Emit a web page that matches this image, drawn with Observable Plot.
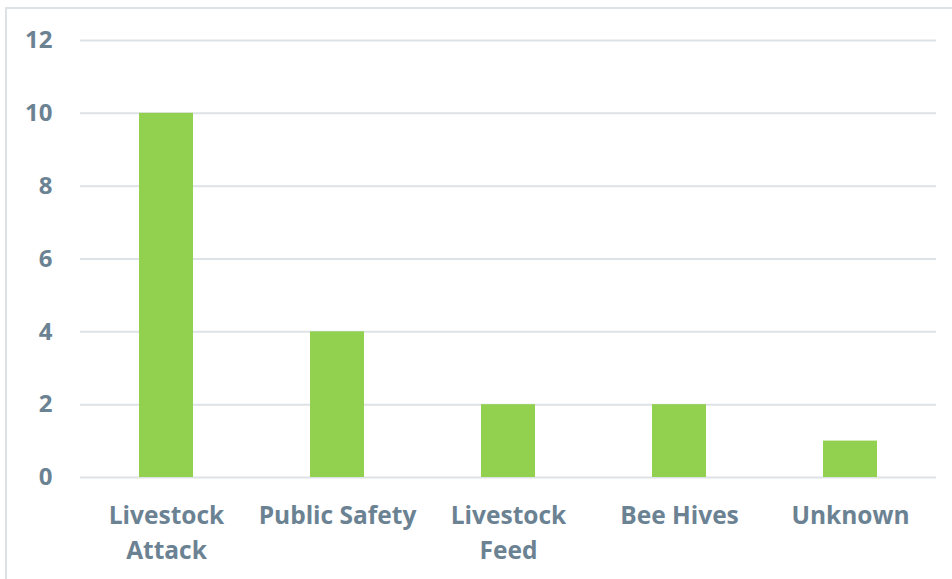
<!DOCTYPE html>
<html>
<head>
<meta charset="utf-8">
<script src="https://cdn.jsdelivr.net/npm/d3@7"></script>
<script src="https://cdn.jsdelivr.net/npm/@observablehq/plot@0.6"></script>
<style>
  html, body { margin: 0; padding: 0; background: #fff; overflow: hidden; }
  #wrap { position: relative; width: 952px; height: 579px; }
  #border { position: absolute; left: 5px; top: 7px; width: 1000px; height: 1000px; border: 2px solid #dde2e6; box-sizing: border-box; pointer-events: none; }
  #chart { position: absolute; left: 0; top: 0; }
</style>
</head>
<body>
<div id="wrap"><div id="border"></div><div id="chart"></div></div>
<script>
const categories = ["Livestock\nAttack", "Public Safety", "Livestock\nFeed", "Bee Hives", "Unknown"];
const values = [10, 4, 2, 2, 1];
const yTicks = [0, 2, 4, 6, 8, 10, 12];

const data = categories.map((c, i) => ({category: c, value: values[i]}));
const textColor = "#6b8293";

const chart = Plot.plot({
  width: 952,
  height: 579,
  marginLeft: 80,
  marginRight: 16,
  marginTop: 40,
  marginBottom: 102,
  style: {fontFamily: "'Open Sans', sans-serif", background: "transparent"},
  x: {domain: categories, paddingInner: 0.685, paddingOuter: 0.3425, align: 0.5, label: null},
  y: {domain: [0, 12], label: null},
  marks: [
    Plot.ruleY(yTicks, {stroke: "#dde2e6", strokeWidth: 2}),
    Plot.barY(data, {x: "category", y: "value", fill: "#92d050"}),
    Plot.axisY(yTicks, {tickSize: 0, tickPadding: 28, fontSize: 24, fontWeight: "bold", fill: textColor, label: null}),
    Plot.axisX({tickSize: 0, tickPadding: 22, fontSize: 24.5, fontWeight: "bold", fill: textColor, lineHeight: 1.43, label: null})
  ]
});
document.getElementById("chart").appendChild(chart);
</script>
</body>
</html>
